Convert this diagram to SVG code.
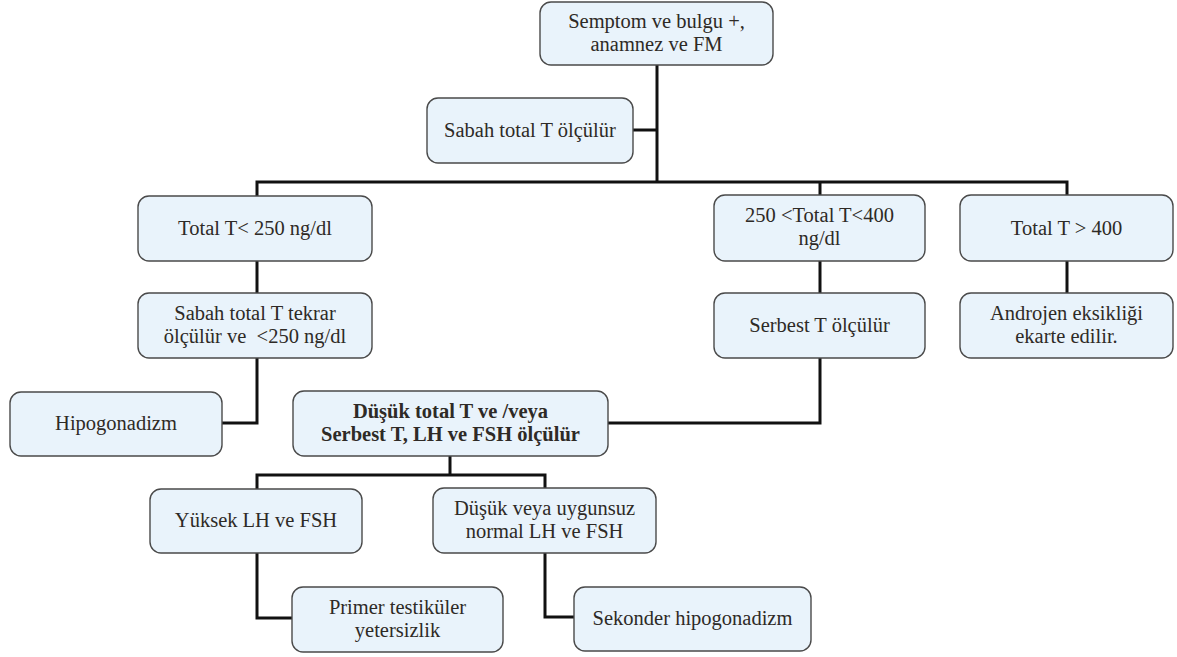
<svg xmlns="http://www.w3.org/2000/svg" width="1177" height="657" viewBox="0 0 1177 657">
<style>
.box{fill:#e9f3fb;stroke:#4a4a4a;stroke-width:1.4}
text{font-family:'Liberation Serif','DejaVu Serif',serif;font-size:20.5px;fill:#2e2a26;text-anchor:middle}
.b{font-weight:bold}
.c{fill:none;stroke:#111;stroke-width:3;stroke-linejoin:miter}
</style>
<rect width="1177" height="657" fill="#fff"/>
<g id="connectors">
<path class="c" d="M657 65V182"/>
<path class="c" d="M633 130H657"/>
<path class="c" d="M257 196V182H1067V196"/>
<path class="c" d="M820 182V196"/>
<path class="c" d="M257 261V293"/>
<path class="c" d="M257 358V423H222"/>
<path class="c" d="M820 261V293"/>
<path class="c" d="M1067 261V293"/>
<path class="c" d="M820 358V423H607"/>
<path class="c" d="M450 456V475"/>
<path class="c" d="M257 489V475H545V489"/>
<path class="c" d="M257 553V618H292"/>
<path class="c" d="M545 553V617H574"/>
</g>
<g id="n1"><rect class="box" x="540" y="2" width="233" height="63" rx="11"/><text x="656.5" y="28">Semptom ve bulgu +,</text><text x="656.5" y="51">anamnez ve FM</text></g>
<g id="n2"><rect class="box" x="427" y="98" width="206" height="65" rx="11"/><text x="530" y="137">Sabah total T ölçülür</text></g>
<g id="n3"><rect class="box" x="138" y="196" width="234" height="65" rx="11"/><text x="255" y="235">Total T&lt; 250 ng/dl</text></g>
<g id="n4"><rect class="box" x="714" y="195" width="211" height="66" rx="11"/><text x="819.5" y="222">250 &lt;Total T&lt;400</text><text x="819.5" y="245">ng/dl</text></g>
<g id="n5"><rect class="box" x="960" y="195" width="213" height="66" rx="11"/><text x="1066.5" y="235">Total T &gt; 400</text></g>
<g id="n6"><rect class="box" x="138" y="293" width="234" height="65" rx="11"/><text x="255" y="320">Sabah total T tekrar</text><text x="255" y="343" xml:space="preserve">ölçülür ve  &lt;250 ng/dl</text></g>
<g id="n7"><rect class="box" x="714" y="293" width="211" height="65" rx="11"/><text x="819.5" y="332">Serbest T ölçülür</text></g>
<g id="n8"><rect class="box" x="960" y="293" width="213" height="65" rx="11"/><text x="1066.5" y="320">Androjen eksikliği</text><text x="1066.5" y="343">ekarte edilir.</text></g>
<g id="n9"><rect class="box" x="10" y="392" width="212" height="64" rx="11"/><text x="116" y="430">Hipogonadizm</text></g>
<g id="n10"><rect class="box" x="293" y="391" width="315" height="65" rx="11"/><text class="b" x="450.5" y="418">Düşük total T ve /veya</text><text class="b" x="450.5" y="441">Serbest T, LH ve FSH ölçülür</text></g>
<g id="n11"><rect class="box" x="150" y="489" width="212" height="64" rx="11"/><text x="256" y="527">Yüksek LH ve FSH</text></g>
<g id="n12"><rect class="box" x="433" y="488" width="223" height="65" rx="11"/><text x="544.5" y="515">Düşük veya uygunsuz</text><text x="544.5" y="538">normal LH ve FSH</text></g>
<g id="n13"><rect class="box" x="292" y="587" width="211" height="65" rx="11"/><text x="397.5" y="614">Primer testiküler</text><text x="397.5" y="637">yetersizlik</text></g>
<g id="n14"><rect class="box" x="574" y="587" width="237" height="64" rx="11"/><text x="692.5" y="625">Sekonder hipogonadizm</text></g>
</svg>
